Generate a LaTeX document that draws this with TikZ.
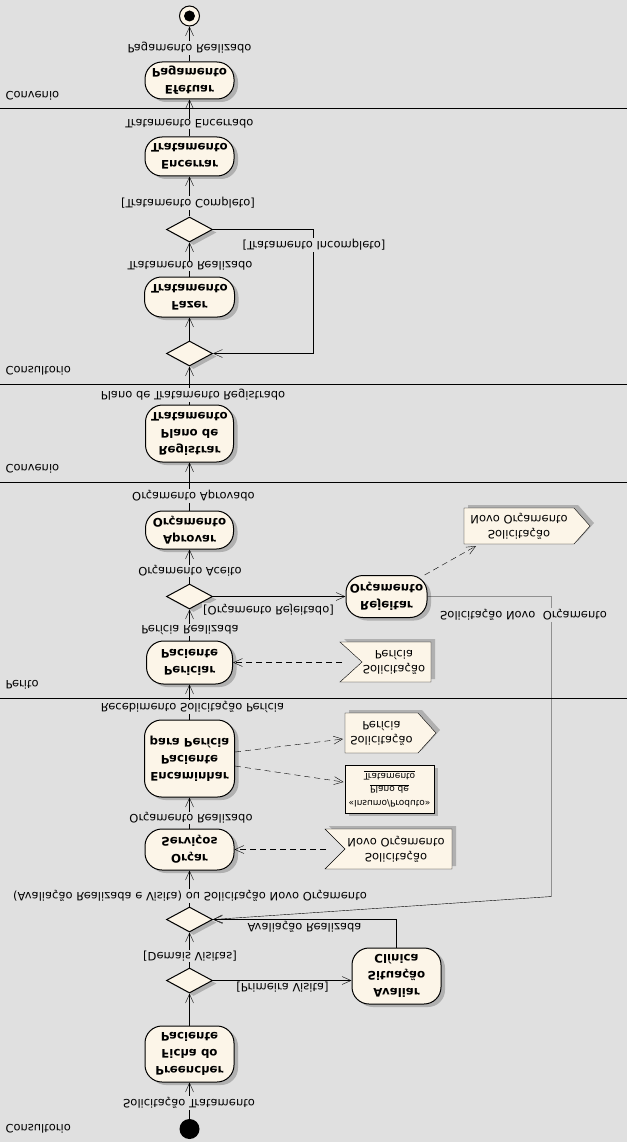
\documentclass[tikz,border=0pt]{standalone}
\usepackage{fontspec}
\setmainfont{DejaVu Sans}
\usetikzlibrary{arrows.meta,shapes.geometric,shadows,calc}
\pgfdeclarelayer{background}
\pgfsetlayers{background,main}
\definecolor{bgc}{RGB}{224,224,224}
\definecolor{nfill}{RGB}{252,245,232}
\definecolor{shc}{RGB}{176,176,176}
\newcommand{\sendshape}[5]{%
  \fill[shc] ($(#1)+(-#2+4,-#4-3)$) -- ($(#1)+(#3-#5+4,-#4-3)$) -- ($(#1)+(#3+4,-3)$) -- ($(#1)+(#3-#5+4,#4-3)$) -- ($(#1)+(-#2+4,#4-3)$) -- cycle;
  \filldraw[fill=nfill] ($(#1)+(-#2,-#4)$) -- ($(#1)+(#3-#5,-#4)$) -- ($(#1)+(#3,0)$) -- ($(#1)+(#3-#5,#4)$) -- ($(#1)+(-#2,#4)$) -- cycle;}
\newcommand{\recvshape}[5]{%
  \fill[shc] ($(#1)+(-#2+4,-#4-3)$) -- ($(#1)+(#3+4,-#4-3)$) -- ($(#1)+(#3+4,#4-3)$) -- ($(#1)+(-#2+4,#4-3)$) -- ($(#1)+(-#2+#5+4,-3)$) -- cycle;
  \filldraw[fill=nfill] ($(#1)+(-#2,-#4)$) -- ($(#1)+(#3,-#4)$) -- ($(#1)+(#3,#4)$) -- ($(#1)+(-#2,#4)$) -- ($(#1)+(-#2+#5,0)$) -- cycle;}
\begin{document}
\begin{tikzpicture}[x=1pt,y=1pt,yscale=-1,transform shape,line width=1pt,
  sh/.style={drop shadow={shadow xshift=4pt,shadow yshift=-3pt,opacity=1,fill=shc}},
  act/.style={draw,fill=nfill,rounded corners=17pt,sh,align=center,inner sep=0pt,font=\bfseries\fontsize{11.8}{17}\selectfont},
  dec/.style={draw,fill=nfill,diamond,minimum width=46pt,minimum height=25pt,inner sep=0pt,sh},
  lbl/.style={fill=bgc,inner sep=1pt,font=\fontsize{11.5}{14}\selectfont},
  lane/.style={anchor=west,inner sep=0pt,font=\fontsize{11.5}{14}\selectfont},
  sigt/.style={align=center,inner sep=0pt,font=\fontsize{11.5}{15}\selectfont},
  flow/.style={-{Straight Barb[length=9pt,width=8pt]}},
  dep/.style={flow,dash pattern=on 6pt off 4pt}]
\useasboundingbox (0,0) rectangle (627,1142);
% lanes
\draw (0,108.5) -- (627,108.5);
\draw (0,384.5) -- (627,384.5);
\draw (0,482.5) -- (627,482.5);
\draw (0,698.5) -- (627,698.5);
\node[lane] (l1) at (5,96) {Convenio};
\node[lane] (l2) at (5,371) {Consultorio};
\node[lane] (l3) at (5,469) {Convenio};
\node[lane] (l4) at (5,685) {Perito};
\node[lane] (l5) at (5,1129) {Consultorio};
% nodes
\node[circle,draw,fill=nfill,minimum size=20pt,inner sep=0pt] (fin) at (189.5,16) {};
\fill (fin.center) circle (5.5);
\node[act,minimum width=89pt,minimum height=37pt] (efe) at (189.5,80.5) {Efetuar\\Pagamento};
\node[act,minimum width=89pt,minimum height=39pt] (enc) at (189.5,156.5) {Encerrar\\Tratamento};
\node[dec] (d1) at (189.5,229.5) {};
\node[act,minimum width=90pt,minimum height=40pt] (faz) at (189.5,297) {Fazer\\Tratamento};
\node[dec] (d2) at (189.5,353.5) {};
\node[act,minimum width=88pt,minimum height=57pt] (reg) at (189.5,433.5) {Registrar\\Plano de\\Tratamento};
\node[act,minimum width=88pt,minimum height=38pt] (apr) at (189.5,530) {Aprovar\\Orçamento};
\node[dec] (d3) at (189.5,596.5) {};
\node[act,minimum width=81pt,minimum height=42pt] (rej) at (386.5,596.5) {Rejeitar\\Orçamento};
\node[act,minimum width=86pt,minimum height=43pt] (per) at (189.5,662.5) {Periciar\\Paciente};
\node[act,minimum width=90pt,minimum height=77pt] (ecm) at (189.5,758.5) {Encaminhar\\Paciente\\para Perícia};
\node[act,minimum width=89pt,minimum height=41pt] (orc) at (189.5,849.5) {Orçar\\Serviços};
\node[dec] (d4) at (189.5,919.5) {};
\node[dec] (d5) at (189.5,980.5) {};
\node[act,minimum width=89pt,minimum height=56pt] (ava) at (396.5,976) {Avaliar\\Situação\\Clínica};
\node[act,minimum width=89pt,minimum height=56pt] (pre) at (189.5,1054) {Preencher\\Ficha do\\Paciente};
\node[circle,fill=black,minimum size=20pt,inner sep=0pt] (init) at (189.5,1129) {};
% signals and object
\node[sigt] (sig1) at (519,526) {Solicitação\\Novo Orçamento};
\node[sigt] (sig2) at (394,662) {Solicitação\\Perícia};
\node[sigt] (sig3) at (381.5,733) {Solicitação\\Perícia};
\node[sigt] (sig4) at (396,849) {Solicitação\\Novo Orçamento};
\node[draw,fill=nfill,sh,minimum width=89pt,minimum height=48pt,inner sep=0pt,align=center,font=\fontsize{9}{13.5}\selectfont] (obj) at (389.5,789) {«Insumo/Produto»\\\underline{Plano de}\\\underline{Tratamento}};
\begin{pgfonlayer}{background}
\fill[bgc] (0,0) rectangle (627,1142);
\sendshape{sig1}{55}{71}{18}{16}
\recvshape{sig2}{54}{37}{20}{22}
\sendshape{sig3}{36.5}{54.5}{20}{18}
\recvshape{sig4}{71}{56}{20}{20}
\end{pgfonlayer}
% connectors
\coordinate (c1) at (551.5,596.5);
\coordinate (c2) at (551.5,896.5);
\coordinate (c3) at (313.5,229.5);
\draw[flow] (init) -- (pre);
\draw[flow] (pre) -- (d5);
\draw[flow] (d5.east) -- (d5.east -| ava.west);
\draw[flow] (d5) -- (d4);
\draw[flow] (ava) |- (d4.east);
\draw[flow] (rej.east) -- (c1) -- (c2) -- (d4.east);
\draw[flow] (d4) -- (orc);
\draw[dep] ($(sig4)+(-70,0.5)$) -- (orc.east);
\draw[flow] (orc) -- (ecm);
\draw[dep] ($(ecm.east)+(0,-6.5)$) -- ($(sig3)+(-38.5,6)$);
\draw[dep] ($(ecm.east)+(0,7.5)$) -- ($(obj.west)+(-1,-7)$);
\draw[flow] (ecm) -- (per);
\draw[dep] ($(sig2)+(-52,0.5)$) -- (per.east);
\draw[flow] (per) -- (d3);
\draw[flow] (d3.east) -- (rej.west);
\draw[dep] (rej) -- ($(sig1)+(-43,20)$);
\draw[flow] (d3) -- (apr);
\draw[flow] (apr) -- (reg);
\draw[flow] (reg) -- (d2);
\draw[flow] (d2) -- (faz);
\draw[flow] (faz) -- (d1);
\draw[flow] (d1.east) -- (c3) |- (d2.east);
\draw[flow] (d1) -- (enc);
\draw[flow] (enc) -- (efe);
\draw[flow] (efe) -- (fin);
% labels
\node[lbl] (t1) at (189.5,48) {Pagamento Realizado};
\node[lbl] (t2) at (189.5,124) {Tratamento Encerrado};
\node[lbl] (t3) at (188,203) {[Tratamento Completo]};
\node[lbl] (t4) at (314,245) {[Tratamento Incompleto]};
\node[lbl] (t5) at (190,266) {Tratamento Realizado};
\node[lbl] (t6) at (193,395) {Plano de Tratamento Registrado};
\node[lbl] (t7) at (193.5,496) {Orçamento Aprovado};
\node[lbl] (t8) at (190,571) {Orçamento Aceito};
\node[lbl] (t9) at (268.5,610) {[Orçamento Rejeitado]};
\node[lbl] (t10) at (523.5,615) {Solicitação Novo\ \ Orçamento};
\node[lbl] (t11) at (190,630) {Perícia Realizada};
\node[lbl] (t12) at (192.5,707) {Recebimento Solicitação Perícia};
\node[lbl] (t13) at (191,818) {Orçamento Realizado};
\node[lbl] (t14) at (190,896) {(Avaliação Realizada e Visita) ou Solicitação Novo Orçamento};
\node[lbl] (t15) at (304.5,927) {Avaliação Realizada};
\node[lbl] (t16) at (190,956) {[Demais Visitas]};
\node[lbl] (t17) at (282.5,987) {[Primeira Visita]};
\node[lbl] (t18) at (189,1103) {Solicitação Tratamento};
\end{tikzpicture}
\end{document}
